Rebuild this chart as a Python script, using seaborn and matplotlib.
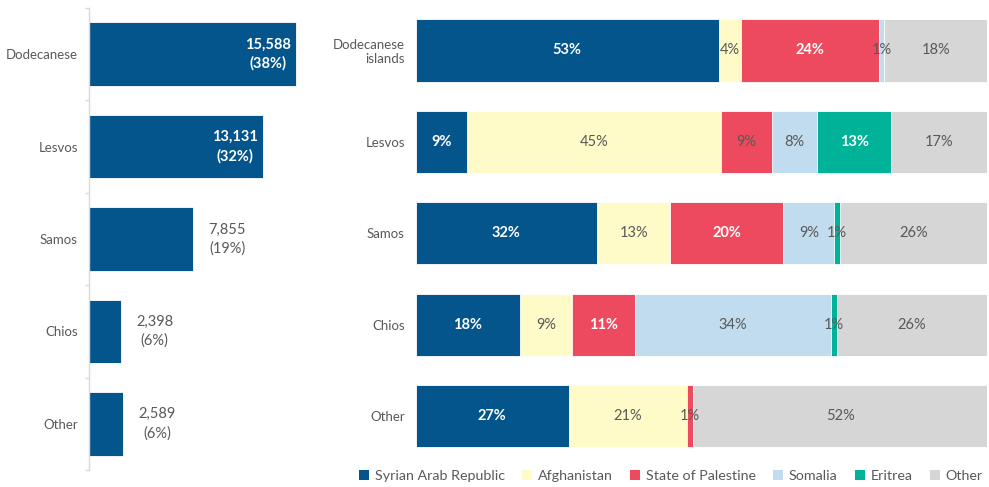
import matplotlib
matplotlib.use("Agg")
import matplotlib.pyplot as plt
from matplotlib.patches import Patch
from matplotlib.ticker import FixedLocator
import numpy as np
import pandas as pd
import seaborn as sns

# Arrivals by island group
regions = ["Dodecanese", "Lesvos", "Samos", "Chios", "Other"]
arrivals = [15588, 13131, 7855, 2398, 2589]
arrival_share = [38, 32, 19, 6, 6]

# Nationality breakdown (%) per island group
region_labels = ["Dodecanese\nislands", "Lesvos", "Samos", "Chios", "Other"]
nationalities = ["Syrian Arab Republic", "Afghanistan", "State of Palestine",
                 "Somalia", "Eritrea", "Other"]
syria = [53, 9, 32, 18, 27]
afghanistan = [4, 45, 13, 9, 21]
palestine = [24, 9, 20, 11, 1]
somalia = [1, 8, 9, 34, 0]
eritrea = [0, 13, 1, 1, 0]
other = [18, 17, 26, 26, 52]

colors = ["#03558c", "#fefbc8", "#ee4a5f", "#c0dcee", "#00b398", "#d6d6d6"]
TEXT = "#595959"

sns.set_theme(style="white")
plt.rcParams["font.family"] = ["Lato", "DejaVu Sans"]

fig = plt.figure(figsize=(9.89, 4.87), dpi=100)
W, H = 989.0, 487.0

# ---------- left panel: total arrivals ----------
ax1 = fig.add_axes([89 / W, 1 - 470 / H, 212.5 / W, 462 / H])
left_df = pd.DataFrame({"region": regions, "arrivals": arrivals})
sns.barplot(data=left_df, x="arrivals", y="region", orient="h", color=colors[0],
            width=0.69, edgecolor="white", linewidth=0.6, saturation=1, ax=ax1)
ax1.set_xlim(0, 16000)
ax1.set_ylim(4.5, -0.5)
ax1.set_xlabel("")
ax1.set_ylabel("")
ax1.set_xticks([])
for s in ["top", "right", "bottom"]:
    ax1.spines[s].set_visible(False)
ax1.spines["left"].set_color("#d9d9d9")
ax1.spines["left"].set_linewidth(1.0)
ax1.yaxis.set_minor_locator(FixedLocator(np.arange(-0.5, 5.0, 1.0)))
ax1.tick_params(axis="y", which="major", length=0, pad=8, labelsize=9.5,
                labelcolor=TEXT)
ax1.tick_params(axis="y", which="minor", length=3, width=1, color="#d9d9d9",
                left=True)
for i, (n, p) in enumerate(zip(arrivals, arrival_share)):
    label = f"{n:,}\n({p}%)"
    if n > 10000:
        ax1.text(n - 420, i, label, ha="right", va="center", multialignment="center",
                 color="white", fontsize=10.5, fontweight="bold", linespacing=1.4)
    else:
        ax1.text(n + 1150, i, label, ha="left", va="center", multialignment="center",
                 color=TEXT, fontsize=10.5, linespacing=1.4)

# ---------- right panel: nationality shares ----------
ax2 = fig.add_axes([416 / W, 1 - 461.7 / H, 571 / W, 456.9 / H])
shares = np.array([syria, afghanistan, palestine, somalia, eritrea, other], dtype=float)
shares_norm = shares / shares.sum(axis=0) * 100
cum = np.cumsum(shares_norm, axis=0)

# draw cumulative widths from the outermost segment inwards
for k in range(len(nationalities) - 1, -1, -1):
    df = pd.DataFrame({"region": region_labels, "value": cum[k]})
    sns.barplot(data=df, x="value", y="region", orient="h", color=colors[k],
                width=0.68, edgecolor="white", linewidth=0.6, saturation=1, ax=ax2)

ax2.set_xlim(0, 100)
ax2.set_ylim(4.5, -0.5)
ax2.set_xlabel("")
ax2.set_ylabel("")
ax2.set_xticks([])
for s in ax2.spines.values():
    s.set_visible(False)
ax2.tick_params(axis="y", length=0, pad=8, labelsize=9.5, labelcolor=TEXT)

for k in range(len(nationalities)):
    for i in range(len(region_labels)):
        v = shares[k, i]
        if v <= 0:
            continue
        center = cum[k, i] - shares_norm[k, i] / 2
        white = (k == 0) or (k in (2, 4) and v >= 10)
        ax2.text(center, i, f"{int(v)}%", ha="center", va="center", fontsize=10.5,
                 color="white" if white else TEXT,
                 fontweight="bold" if white else "normal")

handles = [Patch(facecolor=c, edgecolor="none") for c in colors]
fig.legend(handles, nationalities, loc="center", bbox_to_anchor=(671 / W, 1 - 476 / H),
           ncol=6, frameon=False, fontsize=10.3, labelcolor=TEXT, handlelength=0.7,
           handleheight=0.7, handletextpad=0.4, columnspacing=1.2, borderpad=0)

fig.savefig("out.png", dpi=100)
